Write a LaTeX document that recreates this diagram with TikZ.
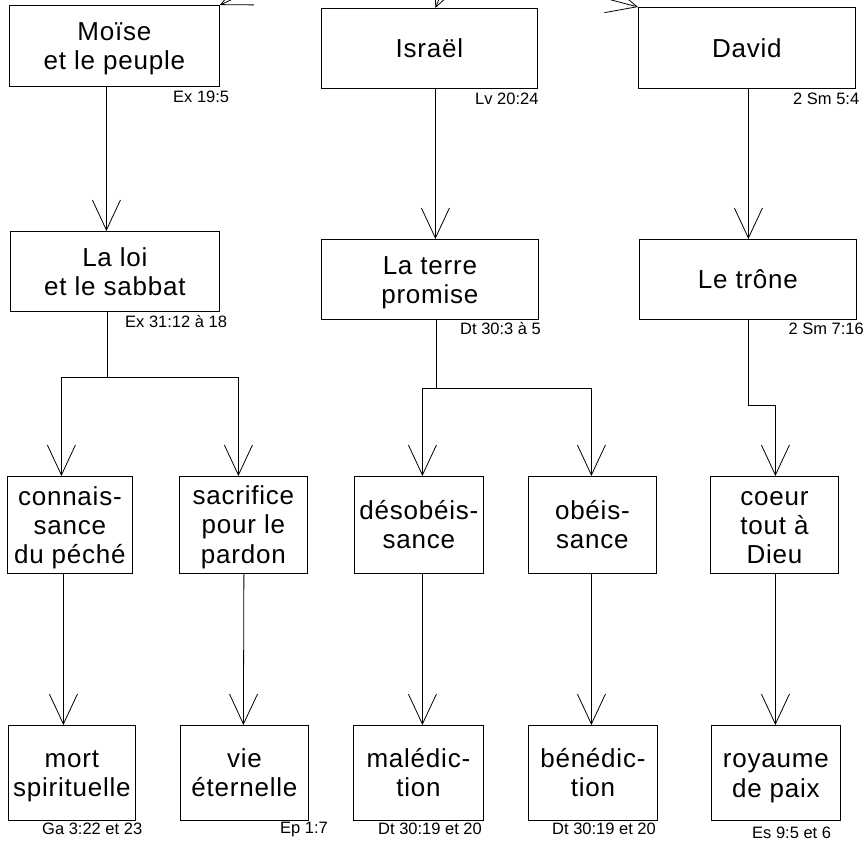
\documentclass[tikz,border=0pt]{standalone}
\usepackage{fontspec}
\usetikzlibrary{arrows.meta}
\newfontfamily\boxfont{Liberation Sans}[LetterSpace=3]
\newfontfamily\reffont{Liberation Sans}
\newcommand\sline{\rule[-5pt]{0pt}{29pt}}
\begin{document}
\begin{tikzpicture}[x=1pt,y=-1pt,
  box/.style={draw, line width=0.8pt, rectangle, anchor=north west, inner sep=0pt,
    align=center, font=\boxfont\fontsize{26}{29}\selectfont},
  ref/.style={anchor=west, inner sep=0pt, font=\reffont\fontsize{16.5}{18}\selectfont},
  conn/.style={line width=0.8pt},
  arr/.style={line width=0.8pt, -{Straight Barb[length=30pt,width=28pt,line width=0.8pt]}}]
\useasboundingbox (0,0) rectangle (865,846);
\clip (0,0) rectangle (865,846);
\fill[white] (0,0) rectangle (865,846);

% row 1
\node[box, minimum width=210, minimum height=81] (moise) at (9,5) {\sline Moïse\\\sline et le peuple};
\node[box, minimum width=216, minimum height=80] (israel) at (321,8) {\sline Israël};
\node[box, minimum width=217, minimum height=81] (david) at (638,7) {\sline David};
\node[ref] (r1) at (173,97) {Ex 19:5};
\node[ref] (r2) at (475,99) {Lv 20:24};
\node[ref] (r3) at (793,99) {2 Sm 5:4};

% row 2
\node[box, minimum width=209, minimum height=80] (laloi) at (10,231) {\sline La loi\\\sline et le sabbat};
\node[box, minimum width=217, minimum height=80] (terre) at (321,239) {\sline La terre\\\sline promise};
\node[box, minimum width=217, minimum height=80] (trone) at (639,239) {\sline Le trône};
\node[ref] (r4) at (125,322) {Ex 31:12 à 18};
\node[ref] (r5) at (460,329) {Dt 30:3 à 5};
\node[ref, anchor=east] (r6) at (864,329) {2 Sm 7:16};

% row 3
\node[box, minimum width=125, minimum height=97] (connais) at (7,476) {\sline connais-\\\sline sance\\\sline du péché};
\node[box, minimum width=128, minimum height=97] (sacrif) at (179,476) {\sline sacrifice\\\sline pour le\\\sline pardon};
\node[box, minimum width=129, minimum height=97] (desob) at (354,476) {\sline désobéis-\\\sline sance};
\node[box, minimum width=128, minimum height=97] (obeis) at (528,476) {\sline obéis-\\\sline sance};
\node[box, minimum width=128, minimum height=97] (coeur) at (710,476) {\sline coeur\\\sline tout à\\\sline Dieu};

% row 4
\node[box, minimum width=127, minimum height=95] (mort) at (8,725) {\sline mort\\\sline spirituelle};
\node[box, minimum width=128, minimum height=95] (vie) at (180,725) {\sline vie\\\sline éternelle};
\node[box, minimum width=130, minimum height=95] (maled) at (353,725) {\sline malédic-\\\sline tion};
\node[box, minimum width=129, minimum height=95] (bened) at (528,725) {\sline bénédic-\\\sline tion};
\node[box, minimum width=129, minimum height=95] (royaume) at (711,725) {\sline royaume\\\sline de paix};
\node[ref] (r7) at (42,829) {Ga 3:22 et 23};
\node[ref] (r8) at (280,830) {Ep 1:7};
\node[ref] (r9) at (378,829) {Dt 30:19 et 20};
\node[ref] (r10) at (552,829) {Dt 30:19 et 20};
\node[ref] (r11) at (752,833) {Es 9:5 et 6};

% incoming arrows from above
\coordinate (inM) at (279,-22);
\coordinate (inI) at (447,-20);
\coordinate (inD) at (566,-12);
\draw[arr] (inM) -- (moise.north east);
\draw[arr] (inI) -- ([xshift=6]israel.north);
\draw[arr] (inD) -- (david.north west);

% row 1 -> row 2
\draw[arr] ([xshift=-8]moise.south) -- ([xshift=-8.5]laloi.north);
\draw[arr] ([xshift=6]israel.south) -- ([xshift=5.5]terre.north);
\draw[arr] ([xshift=1.5]david.south) -- ([xshift=0.5]trone.north);

% row 2 -> row 3
\draw[conn] ([xshift=-7.5]laloi.south) -- ++(0,66) coordinate (j1);
\draw[arr] (j1) -| ([xshift=-8.5]connais.north);
\draw[arr] (j1) -| ([xshift=-5]sacrif.north);
\draw[conn] ([xshift=6.5]terre.south) -- ++(0,69) coordinate (j2);
\draw[arr] (j2) -| ([xshift=3.5]desob.north);
\draw[arr] (j2) -| ([xshift=-1]obeis.north);
\draw[conn] ([xshift=0.5]trone.south) -- ++(0,86) coordinate (j3);
\draw[arr] (j3) -| ([xshift=1]coeur.north);

% row 3 -> row 4
\draw[arr] ([xshift=-6.5]connais.south) -- ([xshift=-8.5]mort.north);
\draw[arr] ([xshift=0.5]sacrif.south) -- ([xshift=-1]vie.north);
\draw[arr] ([xshift=3.5]desob.south) -- ([xshift=4]maled.north);
\draw[arr] ([xshift=-1]obeis.south) -- ([xshift=-1.5]bened.north);
\draw[arr] ([xshift=1]coeur.south) -- ([xshift=-0.5]royaume.north);
\end{tikzpicture}
\end{document}
